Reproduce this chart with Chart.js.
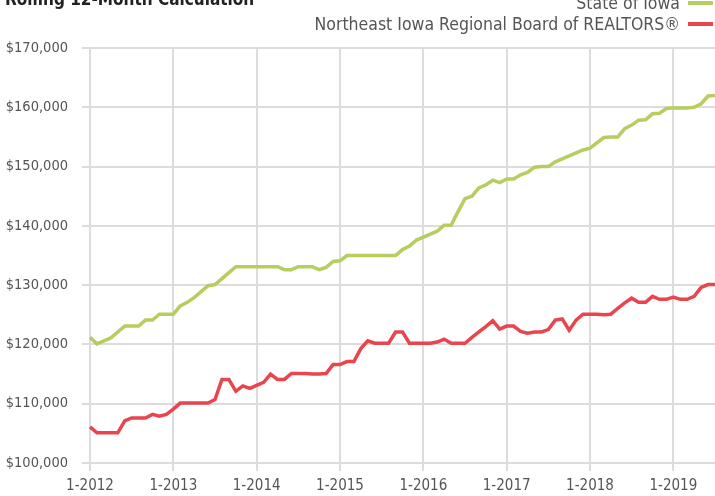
<!DOCTYPE html>
<html>
<head>
<meta charset="utf-8">
<script src="https://cdn.jsdelivr.net/npm/chart.js@4/dist/chart.umd.min.js"></script>
<style>
  html, body { margin: 0; padding: 0; background: #fff; overflow: hidden; }
  #wrap { width: 715px; height: 496px; position: relative; }
</style>
</head>
<body>
<div id="wrap"><canvas id="chart"></canvas></div>
<script>
// months 1-2012 .. 7-2019
const firstYear = 2012;
const monthCount = 91;

const seriesNames = ['State of Iowa', 'Northeast Iowa Regional Board of REALTORS®'];

const iowaValues = [
  121200, 120100, 120600, 121100, 122100, 123100, 123100, 123100, 124100, 124100, 125100, 125100,
  125100, 126500, 127100, 127900, 128900, 129900, 130100, 131100, 132100, 133100, 133100, 133100,
  133100, 133100, 133100, 133100, 132600, 132600, 133100, 133100, 133100, 132600, 133000, 134000,
  134100, 135000, 135000, 135000, 135000, 135000, 135000, 135000, 135000, 136000, 136600, 137600,
  138100, 138600, 139100, 140100, 140100, 142400, 144600, 145000, 146400, 146900, 147700, 147300,
  147900, 147900, 148600, 149000, 149900, 150000, 150000, 150800, 151300, 151800, 152300, 152800,
  153100, 154000, 154900, 155000, 155000, 156400, 157000, 157800, 157900, 158900, 159000, 159800,
  159900, 159900, 159900, 160000, 160600, 161900, 162000
];

const northeastValues = [
  106100, 105100, 105100, 105100, 105100, 107100, 107600, 107600, 107600, 108200, 107900, 108200,
  109100, 110100, 110100, 110100, 110100, 110100, 110700, 114100, 114100, 112100, 113000, 112600,
  113100, 113600, 115000, 114100, 114100, 115100, 115100, 115100, 115000, 115000, 115100, 116600,
  116600, 117100, 117100, 119300, 120600, 120200, 120200, 120200, 122100, 122100, 120200, 120200,
  120200, 120200, 120400, 120900, 120200, 120200, 120200, 121200, 122100, 123000, 124000, 122600,
  123100, 123100, 122200, 121900, 122100, 122100, 122500, 124100, 124300, 122400, 124100, 125100,
  125100, 125100, 125000, 125100, 126100, 127000, 127800, 127100, 127100, 128100, 127600, 127600,
  128000, 127600, 127600, 128100, 129600, 130100, 130100
];

const yMin = 100000;
const yMax = 170000;
const yStep = 10000;

const monthLabels = [];
for (let i = 0; i < monthCount; i++) {
  monthLabels.push(((i % 12) + 1) + '-' + (firstYear + Math.floor(i / 12)));
}

const green = '#b6cd5f';
const red = '#e8454f';
const gridColor = '#dcdcdc';
const textColor = '#555555';
const fontFamily = '"DejaVu Sans Condensed", "Liberation Sans", sans-serif';

// title on the left, legend on the right, both partly cut off at the top
const headerPlugin = {
  id: 'header',
  afterDraw(chart) {
    const ctx = chart.ctx;
    ctx.save();
    ctx.fillStyle = '#222';
    ctx.font = 'bold 17px ' + fontFamily;
    ctx.textAlign = 'left';
    ctx.textBaseline = 'alphabetic';
    ctx.fillText('Rolling 12-Month Calculation', 5, 5);

    ctx.font = '17.5px ' + fontFamily;
    ctx.textAlign = 'right';
    ctx.fillStyle = textColor;
    const rows = [{ y: 9, i: 0 }, { y: 30, i: 1 }];
    rows.forEach(row => {
      const ds = chart.data.datasets[row.i];
      ctx.fillText(ds.label, 680, row.y);
      ctx.strokeStyle = ds.borderColor;
      ctx.lineWidth = 4;
      ctx.beginPath();
      ctx.moveTo(688, row.y - 6);
      ctx.lineTo(713, row.y - 6);
      ctx.stroke();
    });
    ctx.restore();
  }
};

new Chart(document.getElementById('chart'), {
  type: 'line',
  data: {
    labels: monthLabels,
    datasets: [
      {
        label: seriesNames[0],
        data: iowaValues,
        borderColor: green,
        borderWidth: 3.5,
        pointRadius: 0,
        tension: 0
      },
      {
        label: seriesNames[1],
        data: northeastValues,
        borderColor: red,
        borderWidth: 3.5,
        pointRadius: 0,
        tension: 0
      }
    ]
  },
  options: {
    responsive: true,
    maintainAspectRatio: false,
    animation: false,
    layout: {
      padding: { top: 48, right: 0, bottom: 0, left: 0 }
    },
    plugins: {
      legend: { display: false },
      tooltip: { enabled: false }
    },
    scales: {
      x: {
        offset: false,
        grid: { color: gridColor, lineWidth: 2, tickLength: 8 },
        border: { display: false },
        ticks: {
          autoSkip: false,
          maxRotation: 0,
          padding: 6,
          color: textColor,
          font: { family: fontFamily, size: 15 },
          callback: function(value, index) {
            const label = this.getLabelForValue(value);
            return label.startsWith('1-') ? label : null;
          }
        },
        afterFit(scale) {
          scale.height = 33;
        }
      },
      y: {
        min: yMin,
        max: yMax,
        grid: { color: gridColor, lineWidth: 2, tickLength: 8 },
        border: { display: false },
        ticks: {
          stepSize: yStep,
          padding: 14,
          color: textColor,
          font: { family: fontFamily, size: 14.5 },
          callback: value => '$' + value.toLocaleString('en-US')
        },
        afterFit(scale) {
          scale.width = 90;
        }
      }
    }
  },
  plugins: [headerPlugin]
});
</script>
</body>
</html>
